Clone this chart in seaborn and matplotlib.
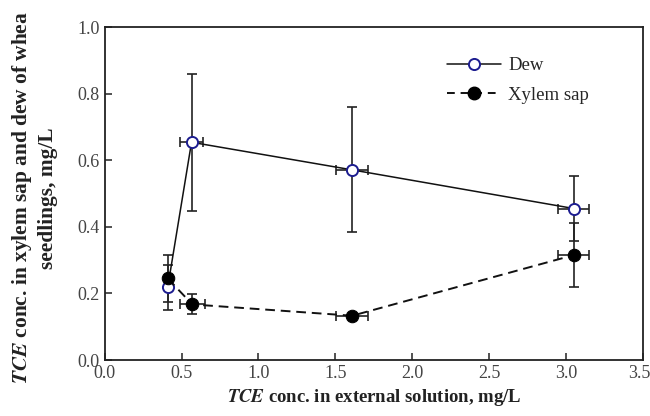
import matplotlib
matplotlib.use("Agg")
import matplotlib.pyplot as plt
import matplotlib.transforms as mtransforms
import seaborn as sns
import pandas as pd
from matplotlib.lines import Line2D

# Data
dew_x = [0.41, 0.565, 1.61, 3.05]
dew_y = [0.218, 0.654, 0.571, 0.455]
dew_yerr = [0.068, 0.205, 0.188, 0.097]
dew_xerr = [0.0, 0.075, 0.105, 0.10]

xyl_x = [0.41, 0.57, 1.61, 3.05]
xyl_y = [0.245, 0.167, 0.133, 0.315]
xyl_yerr = [0.07, 0.03, 0.0, 0.097]
xyl_xerr = [0.0, 0.08, 0.105, 0.10]

xticks = [0.0, 0.5, 1.0, 1.5, 2.0, 2.5, 3.0, 3.5]
yticks = [0.0, 0.2, 0.4, 0.6, 0.8, 1.0]

sns.set_theme(style="ticks")
plt.rcParams['font.family'] = ['Liberation Serif', 'DejaVu Serif']
plt.rcParams['mathtext.fontset'] = 'stix'

fig = plt.figure(figsize=(6.5, 4.16), dpi=100)
ax = fig.add_axes([0.161, 0.1346, 0.828, 0.8004])

dew_df = pd.DataFrame({"x": dew_x, "y": dew_y})
xyl_df = pd.DataFrame({"x": xyl_x, "y": xyl_y})

# error bars
ax.errorbar(dew_x, dew_y, yerr=dew_yerr, xerr=dew_xerr, fmt='none',
            ecolor='#222222', elinewidth=1.2, capsize=3.3, capthick=1.2, zorder=2)
ax.errorbar(xyl_x, xyl_y, yerr=xyl_yerr, xerr=xyl_xerr, fmt='none',
            ecolor='#222222', elinewidth=1.2, capsize=3.3, capthick=1.2, zorder=2)

sns.lineplot(data=dew_df, x="x", y="y", ax=ax, color='#111111', lw=1.1,
             marker='o', markersize=8, markerfacecolor='white',
             markeredgecolor='#1c1c8f', markeredgewidth=1.4, zorder=3,
             sort=False)
sns.lineplot(data=xyl_df, x="x", y="y", ax=ax, color='#111111', lw=1.4,
             linestyle=(0, (5, 3)), marker='o', markersize=9,
             markerfacecolor='black', markeredgecolor='black', zorder=4,
             sort=False)

ax.set_xlim(0, 3.5)
ax.set_ylim(0, 1.0)
ax.set_xticks(xticks)
ax.set_yticks(yticks)
ax.set_xticklabels([f"{v:.1f}" for v in xticks])
ax.set_yticklabels([f"{v:.1f}" for v in yticks])
ax.tick_params(direction='in', length=5, width=1.1, labelsize=13,
               colors='#222222', labelcolor='#444444')
for s in ax.spines.values():
    s.set_visible(True)
    s.set_linewidth(1.3)
    s.set_color('#222222')

# nudge last x tick label so it stays within the figure
last = ax.get_xticklabels()[-1]
last.set_transform(last.get_transform() +
                   mtransforms.ScaledTranslation(-4 / 100, 0, fig.dpi_scale_trans))

ax.set_xlabel(r"$\boldsymbol{TCE}$ conc. in external solution, mg/L",
              fontsize=13.5, fontweight='bold', color='#222222', labelpad=4)
ax.set_ylabel("")
fig.text(34 / 650, 1 - 198 / 416,
         r"$\boldsymbol{TCE}$ conc. in xylem sap and dew of whea" + "\n" +
         "seedlings, mg/L",
         rotation=90, ha='center', va='center', multialignment='center',
         fontsize=15.4, fontweight='bold', color='#222222', linespacing=1.3)

handles = [
    Line2D([], [], color='#111111', lw=1.1, marker='o', markersize=8,
           markerfacecolor='white', markeredgecolor='#1c1c8f', markeredgewidth=1.4),
    Line2D([], [], color='#111111', lw=1.4, linestyle=(0, (4, 3)), marker='o',
           markersize=9, markerfacecolor='black', markeredgecolor='black'),
]
ax.legend(handles, ["Dew", "Xylem sap"], loc='upper left',
          bbox_to_anchor=(0.604, 0.96), frameon=False, fontsize=13.5,
          handlelength=2.9, handletextpad=0.4, labelspacing=0.65)

fig.savefig("out.png", dpi=100)
